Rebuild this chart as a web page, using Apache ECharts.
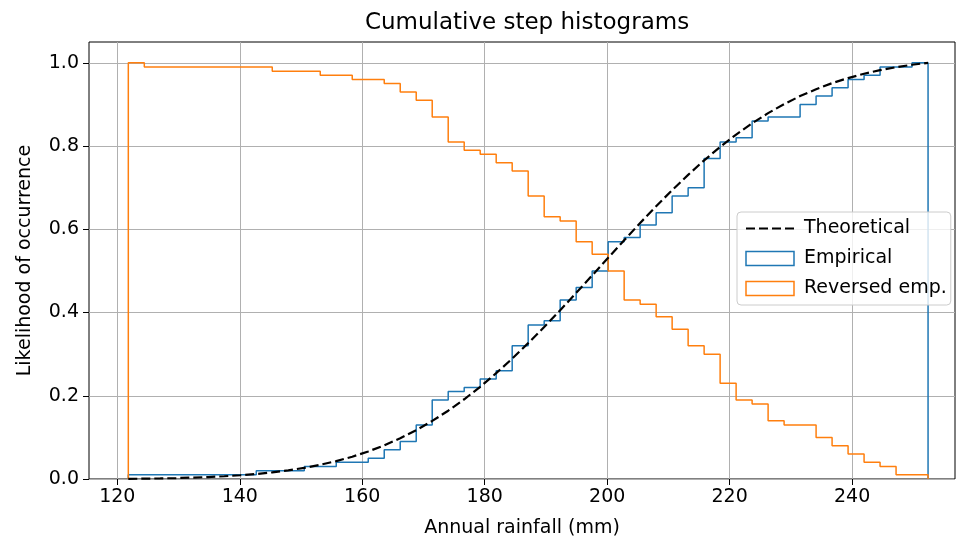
<!DOCTYPE html>
<html>
<head>
<meta charset="utf-8">
<script src="https://cdn.jsdelivr.net/npm/echarts@6/dist/echarts.min.js"></script>
<style>
html,body{margin:0;padding:0;background:#fff;}
#chart{width:958px;height:543px;}
</style>
</head>
<body>
<div id="chart"></div>
<script>
// ---- data ----
const binMin = 121.8;
const binMax = 252.4;
const nBins = 50;
const empirical = [
  0.01,0.01,0.01,0.01,0.01,0.01,0.01,0.01,0.02,0.02,
  0.02,0.03,0.03,0.04,0.04,0.05,0.07,0.09,0.13,0.19,
  0.21,0.22,0.24,0.26,0.32,0.37,0.38,0.43,0.46,0.50,
  0.57,0.58,0.61,0.64,0.68,0.70,0.77,0.81,0.82,0.86,
  0.87,0.87,0.90,0.92,0.94,0.96,0.97,0.99,0.99,1.00
];
const reversedEmp = [
  1.00,0.99,0.99,0.99,0.99,0.99,0.99,0.99,0.99,0.98,
  0.98,0.98,0.97,0.97,0.96,0.96,0.95,0.93,0.91,0.87,
  0.81,0.79,0.78,0.76,0.74,0.68,0.63,0.62,0.57,0.54,
  0.50,0.43,0.42,0.39,0.36,0.32,0.30,0.23,0.19,0.18,
  0.14,0.13,0.13,0.10,0.08,0.06,0.04,0.03,0.01,0.01
];
const theoretical = [
  0.0004,0.0008,0.0014,0.0022,0.0033,0.0047,0.0066,0.0090,0.0120,0.0159,
  0.0208,0.0268,0.0341,0.0430,0.0536,0.0662,0.0808,0.0979,0.1173,0.1395,
  0.1641,0.1916,0.2216,0.2543,0.2891,0.3264,0.3652,0.4054,0.4471,0.4891,
  0.5316,0.5735,0.6152,0.6553,0.6941,0.7308,0.7656,0.7977,0.8276,0.8546,
  0.8791,0.9008,0.9200,0.9366,0.9511,0.9633,0.9738,0.9824,0.9895,0.9953,
  1.0000
];
const xTicks = [120,140,160,180,200,220,240];
const yTicks = [0,0.2,0.4,0.6,0.8,1.0];
const titleText = 'Cumulative step histograms';
const xName = 'Annual rainfall (mm)';
const yName = 'Likelihood of occurrence';

// ---- build ----
const FONT = 'DejaVu Sans';
const binW = (binMax - binMin) / nBins;
const edges = [];
for (let k = 0; k <= nBins; k++) edges.push(binMin + k * binW);

function stepOutline(vals) {
  const pts = [[edges[0], 0]];
  for (let k = 0; k < vals.length; k++) pts.push([edges[k], vals[k]]);
  pts.push([edges[nBins], vals[vals.length - 1]]);
  pts.push([edges[nBins], 0]);
  return pts;
}
const theoPts = edges.map((e, k) => [e, theoretical[k]]);

const titleSize = 23;
const c = document.createElement('canvas').getContext('2d');
c.font = titleSize + 'px "' + FONT + '"';
const titleW = c.measureText(titleText).width;

const BLUE = '#1f77b4', ORANGE = '#ff7f0e';

const chart = echarts.init(document.getElementById('chart'), null, {renderer: 'canvas'});
chart.setOption({
  animation: false,
  backgroundColor: '#fff',
  textStyle: {fontFamily: FONT},
  title: {
    text: titleText,
    left: 527 - titleW / 2,
    top: 12,
    padding: 0,
    textStyle: {fontFamily: FONT, fontSize: titleSize, fontWeight: 'normal', color: '#000'}
  },
  grid: {
    left: 89, right: 3, top: 42, bottom: 64,
    show: true, borderColor: '#000', borderWidth: 1, backgroundColor: '#fff'
  },
  legend: {
    orient: 'vertical',
    left: 737, top: 212,
    padding: [7, 4, 7, 8],
    itemGap: 11,
    itemWidth: 48,
    itemHeight: 14,
    backgroundColor: 'rgba(255,255,255,0.8)',
    borderColor: '#cccccc',
    borderWidth: 1,
    borderRadius: 4,
    textStyle: {fontFamily: FONT, fontSize: 19, color: '#000', padding: [0, 0, 0, 5]},
    data: [
      {name: 'Theoretical', itemStyle: {color: 'rgba(0,0,0,0)', borderWidth: 0, opacity: 0}},
      {name: 'Empirical', icon: 'rect', itemStyle: {color: 'rgba(0,0,0,0)', borderColor: BLUE, borderWidth: 1.5}},
      {name: 'Reversed emp.', icon: 'rect', itemStyle: {color: 'rgba(0,0,0,0)', borderColor: ORANGE, borderWidth: 1.5}}
    ]
  },
  xAxis: {
    type: 'value',
    min: 115.38, max: 256.8,
    name: xName, nameLocation: 'middle', nameGap: 40,
    nameTextStyle: {fontFamily: FONT, fontSize: 19, color: '#000'},
    axisLine: {show: false},
    axisTick: {show: true, inside: false, length: 6, customValues: xTicks, lineStyle: {color: '#000', width: 1}},
    axisLabel: {customValues: xTicks, margin: 9, fontFamily: FONT, fontSize: 19, color: '#000'},
    splitLine: {show: true, lineStyle: {color: '#b0b0b0', width: 1}}
  },
  yAxis: {
    type: 'value',
    min: 0, max: 1.05,
    name: yName, nameLocation: 'middle', nameGap: 54, nameRotate: 90,
    nameTextStyle: {fontFamily: FONT, fontSize: 19, color: '#000'},
    axisLine: {show: false},
    axisTick: {show: true, inside: false, length: 6, customValues: yTicks, lineStyle: {color: '#000', width: 1}},
    axisLabel: {customValues: yTicks, margin: 10, fontFamily: FONT, fontSize: 19, color: '#000',
      formatter: v => Number(v).toFixed(1)},
    splitLine: {show: true, lineStyle: {color: '#b0b0b0', width: 1}}
  },
  series: [
    {
      name: 'Empirical', type: 'line', step: 'end', data: stepOutline(empirical),
      symbol: 'none', lineStyle: {color: BLUE, width: 1.5}, itemStyle: {color: BLUE}, z: 2
    },
    {
      name: 'Reversed emp.', type: 'line', step: 'end', data: stepOutline(reversedEmp),
      symbol: 'none', lineStyle: {color: ORANGE, width: 1.5}, itemStyle: {color: ORANGE}, z: 2
    },
    {
      name: 'Theoretical', type: 'line', data: theoPts,
      symbol: 'none', lineStyle: {color: '#000', width: 2.2, type: [9, 4], cap: 'butt'}, itemStyle: {color: '#000'}, z: 2
    }
  ]
});
</script>
</body>
</html>
